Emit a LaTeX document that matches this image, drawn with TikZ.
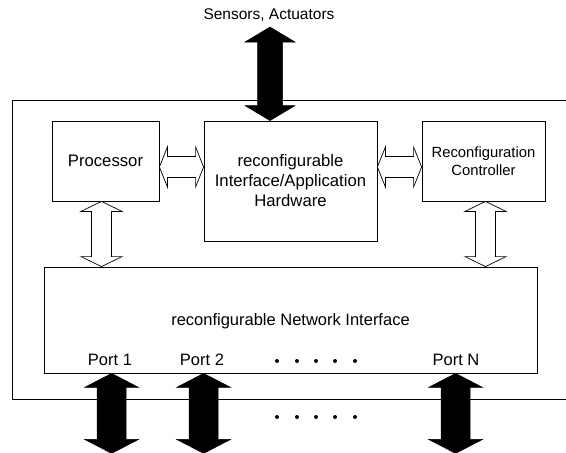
\documentclass[tikz,border=0pt]{standalone}
\usepackage{fontspec}
\setmainfont{Liberation Sans}
\usetikzlibrary{calc}
\newcommand\hollowH[2]{%
  \draw[hollow] (#1) -- ($(#1)+(8,-20)$) -- ($(#1)+(8,-10.5)$) -- ($(#2)+(-8,-10.5)$) -- ($(#2)+(-8,-20)$) -- (#2)
    -- ($(#2)+(-8,20)$) -- ($(#2)+(-8,10.5)$) -- ($(#1)+(8,10.5)$) -- ($(#1)+(8,20)$) -- cycle;}
% #1 style, #2 top tip, #3 bottom tip, #4 head half width, #5 shaft half width, #6 head length
\newcommand\vArrow[6]{%
  \draw[#1] (#2) -- ($(#2)+(#4,#6)$) -- ($(#2)+(#5,#6)$) -- ($(#3)+(#5,-#6)$) -- ($(#3)+(#4,-#6)$) -- (#3)
    -- ($(#3)+(-#4,-#6)$) -- ($(#3)+(-#5,-#6)$) -- ($(#2)+(-#5,#6)$) -- ($(#2)+(-#4,#6)$) -- cycle;}
\begin{document}
\begin{tikzpicture}[x=1pt,y=-1pt,
  box/.style={draw=black, line width=0.8pt, inner sep=0pt, align=center, font=\fontsize{16.7}{20}\selectfont},
  lbl/.style={inner sep=0pt, font=\fontsize{16.5}{20}\selectfont},
  hollow/.style={draw=black, fill=white, line width=0.7pt, line join=miter},
  solid/.style={draw=black, fill=black, line width=0.5pt},
  frame/.style={draw=black, line width=0.8pt}]
\useasboundingbox (0,0) rectangle (566,453);
% outer frame (open on the right)
\draw[frame] (566,100) -- (12,100) -- (12,399) -- (566,399);
% boxes
\node[box, minimum width=107pt, minimum height=80pt] (proc) at (105.5,161) {Processor};
\node[box, minimum width=173pt, minimum height=120pt] (hw) at (290.5,181) {reconfigurable\\Interface/Application\\Hardware};
\node[box, minimum width=123pt, minimum height=80pt, font=\fontsize{14.8}{18}\selectfont] (rc) at (483.5,161) {Reconfiguration\\Controller};
\node[box, minimum width=493pt, minimum height=106pt] (net) at (290.5,320) {};
\node[lbl] (nettxt) at (290.5,321) {reconfigurable Network Interface};
\node[lbl] (port1) at (110,360) {Port 1};
\node[lbl] (port2) at (202,360) {Port 2};
\node[lbl] (portN) at (456,360) {Port N};
\node[lbl, font=\fontsize{15.5}{18}\selectfont] (sens) at (269,15) {Sensors, Actuators};
% hollow arrows
\coordinate (a1) at ($(proc.east)+(0,6)$);
\coordinate (a2) at (a1 -| hw.west);
\hollowH{a1}{a2}
\coordinate (a3) at (a1 -| hw.east);
\coordinate (a4) at (a1 -| rc.west);
\hollowH{a3}{a4}
\coordinate (b1) at ($(proc.south)+(-4,0)$);
\coordinate (b2) at (b1 |- net.north);
\vArrow{hollow}{b1}{b2}{20.5}{10}{10}
\coordinate (c1) at ($(rc.south)+(2,0)$);
\coordinate (c2) at (c1 |- net.north);
\vArrow{hollow}{c1}{c2}{20.5}{10}{10}
% black arrows
\coordinate (s1) at (270,27);
\coordinate (s2) at (s1 |- hw.north);
\vArrow{solid}{s1}{s2}{25}{12.5}{15}
\coordinate (p1t) at ($(net.south west)+(68,0)$);
\coordinate (p1b) at ($(p1t)+(0,80)$);
\vArrow{solid}{p1t}{p1b}{27}{14.5}{14}
\coordinate (p2t) at ($(net.south west)+(160,0)$);
\coordinate (p2b) at ($(p2t)+(0,80)$);
\vArrow{solid}{p2t}{p2b}{27}{14.5}{14}
\coordinate (pNt) at ($(net.south west)+(412,0)$);
\coordinate (pNb) at ($(pNt)+(0,80)$);
\vArrow{solid}{pNt}{pNb}{27}{14.5}{14}
% dots
\foreach \x in {277,297,316,335,355} {
  \fill (\x,361) circle (2);
  \fill (\x,417) circle (2);
}
\end{tikzpicture}
\end{document}
